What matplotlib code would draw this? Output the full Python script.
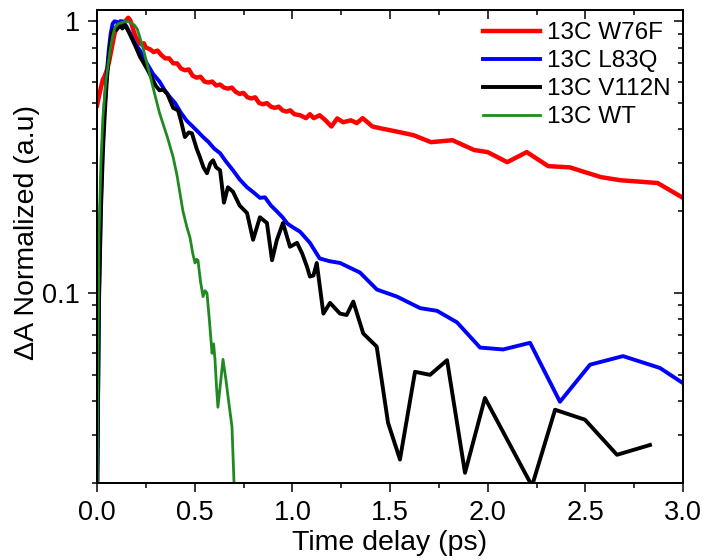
import matplotlib
matplotlib.use("Agg")
import matplotlib.pyplot as plt
from matplotlib.ticker import FixedLocator, FixedFormatter, NullFormatter, MultipleLocator, LogLocator

plt.rcParams['font.family'] = ['Liberation Sans', 'DejaVu Sans']

labels = ["13C W76F", "13C L83Q", "13C V112N", "13C WT"]
colors = ["#ff0000", "#0000ff", "#000000", "#1f8a1f"]

w76f_t = [0.00, 0.01, 0.02, 0.03, 0.04, 0.05, 0.06, 0.07, 0.08, 0.09, 0.10, 0.11, 0.12, 0.13, 0.14,
          0.15, 0.16, 0.17, 0.18, 0.19, 0.20, 0.21, 0.22, 0.23, 0.24, 0.25, 0.27, 0.29, 0.31, 0.33,
          0.35, 0.37, 0.39, 0.41, 0.43, 0.45, 0.47, 0.49, 0.51, 0.53, 0.55, 0.57, 0.59, 0.61, 0.63,
          0.65, 0.67, 0.69, 0.71, 0.73, 0.75, 0.77, 0.79, 0.81, 0.83, 0.85, 0.87, 0.89, 0.91, 0.93,
          0.95, 0.97, 0.99, 1.01, 1.04, 1.07, 1.09, 1.11, 1.14, 1.17, 1.20, 1.23, 1.26, 1.30, 1.33,
          1.36, 1.41, 1.45, 1.54, 1.62, 1.71, 1.82, 1.93, 2.00, 2.10, 2.20, 2.31, 2.42, 2.58, 2.68,
          2.87, 3.00]
w76f_a = [0.49, 0.53, 0.57, 0.61, 0.63, 0.66, 0.70, 0.76, 0.83, 0.90, 0.95, 0.98, 1.00, 0.98, 0.99,
          1.01, 1.03, 1.01, 0.96, 0.91, 0.87, 0.85, 0.83, 0.82, 0.83, 0.80, 0.79, 0.77, 0.78, 0.75,
          0.73, 0.73, 0.70, 0.70, 0.67, 0.66, 0.665, 0.63, 0.62, 0.625, 0.60, 0.595, 0.60, 0.58, 0.585,
          0.57, 0.565, 0.57, 0.55, 0.54, 0.545, 0.525, 0.52, 0.525, 0.50, 0.495, 0.50, 0.485, 0.48, 0.485,
          0.47, 0.465, 0.47, 0.455, 0.451, 0.44, 0.455, 0.44, 0.451, 0.432, 0.41, 0.439, 0.425, 0.432, 0.422,
          0.44, 0.41, 0.404, 0.392, 0.381, 0.359, 0.365, 0.336, 0.330, 0.303, 0.330, 0.293, 0.290, 0.267, 0.260,
          0.254, 0.224]

l83q_t = [0.000, 0.010, 0.020, 0.030, 0.040, 0.050, 0.060, 0.070, 0.080, 0.090, 0.110, 0.130, 0.150,
          0.170, 0.190, 0.220, 0.250, 0.287, 0.320, 0.345, 0.374, 0.400, 0.430, 0.460, 0.490, 0.520,
          0.543, 0.570, 0.600, 0.630, 0.660, 0.696, 0.730, 0.768, 0.800, 0.834, 0.860, 0.890, 0.920,
          0.950, 0.975, 1.000, 1.040, 1.090, 1.140, 1.190, 1.244, 1.346, 1.433, 1.536, 1.654, 1.741,
          1.843, 1.961, 2.079, 2.217, 2.370, 2.524, 2.693, 2.882, 3.000]
l83q_a = [0.015, 0.10, 0.22, 0.36, 0.50, 0.64, 0.78, 0.90, 0.98, 1.00, 0.99, 1.00, 0.96,
          0.90, 0.84, 0.78, 0.71, 0.64, 0.60, 0.56, 0.525, 0.50, 0.46, 0.43, 0.41, 0.39,
          0.375, 0.36, 0.34, 0.327, 0.305, 0.283, 0.262, 0.245, 0.235, 0.224, 0.225, 0.21, 0.20,
          0.19, 0.18, 0.175, 0.168, 0.153, 0.134, 0.131, 0.129, 0.119, 0.103, 0.097, 0.088, 0.086,
          0.078, 0.063, 0.062, 0.0656, 0.0398, 0.0545, 0.0586, 0.0530, 0.0466]

v112n_t = [0.000, 0.010, 0.020, 0.030, 0.040, 0.050, 0.060, 0.070, 0.080, 0.090, 0.100, 0.110, 0.120,
           0.130, 0.140, 0.150, 0.160, 0.170, 0.180, 0.200, 0.220, 0.240, 0.260, 0.287, 0.300, 0.320,
           0.340, 0.360, 0.390, 0.415, 0.430, 0.450, 0.470, 0.486, 0.510, 0.527, 0.545, 0.563, 0.580,
           0.594, 0.610, 0.630, 0.650, 0.670, 0.696, 0.730, 0.768, 0.799, 0.834, 0.870, 0.896, 0.921,
           0.952, 0.988, 1.024, 1.050, 1.075, 1.090, 1.108, 1.125, 1.159, 1.193, 1.244, 1.278, 1.312,
           1.363, 1.432, 1.490, 1.551, 1.628, 1.705, 1.792, 1.884, 1.986, 2.227, 2.345, 2.498, 2.662,
           2.831]
v112n_a = [0.015, 0.09, 0.20, 0.33, 0.46, 0.60, 0.74, 0.85, 0.92, 0.94, 0.93, 0.95, 0.96,
           0.94, 0.97, 0.95, 0.92, 0.89, 0.86, 0.80, 0.74, 0.70, 0.66, 0.607, 0.58, 0.557,
           0.56, 0.54, 0.48, 0.47, 0.43, 0.375, 0.39, 0.387, 0.34, 0.316, 0.29, 0.276, 0.30,
           0.308, 0.29, 0.283, 0.215, 0.245, 0.236, 0.21, 0.197, 0.157, 0.19, 0.181, 0.132, 0.157,
           0.181, 0.148, 0.153, 0.14, 0.125, 0.115, 0.116, 0.129, 0.084, 0.092, 0.084, 0.083, 0.093,
           0.071, 0.0635, 0.0333, 0.0244, 0.0513, 0.0500, 0.0566, 0.0218, 0.0411, 0.0195, 0.0372, 0.0342, 0.0254,
           0.0276]

wt_t = [0.000, 0.005, 0.010, 0.020, 0.030, 0.045, 0.067, 0.080, 0.092, 0.110, 0.130, 0.154, 0.170,
        0.190, 0.205, 0.220, 0.235, 0.260, 0.287, 0.320, 0.360, 0.390, 0.410, 0.440, 0.460, 0.476,
        0.490, 0.502, 0.510, 0.517, 0.530, 0.543, 0.553, 0.563, 0.575, 0.589, 0.597, 0.604, 0.612,
        0.619, 0.630, 0.645, 0.660, 0.671, 0.691, 0.701, 0.710]
wt_a = [0.012, 0.06, 0.16, 0.30, 0.44, 0.60, 0.78, 0.88, 0.95, 0.98, 0.99, 1.00, 0.99,
        0.97, 0.94, 0.87, 0.80, 0.68, 0.57, 0.46, 0.375, 0.316, 0.27, 0.20, 0.175, 0.16,
        0.14, 0.129, 0.133, 0.132, 0.11, 0.097, 0.102, 0.100, 0.08, 0.060, 0.065, 0.057, 0.045,
        0.038, 0.045, 0.057, 0.048, 0.0415, 0.0322, 0.0204, 0.015]

xticks = [0.0, 0.5, 1.0, 1.5, 2.0, 2.5, 3.0]
xticklabels = ["0.0", "0.5", "1.0", "1.5", "2.0", "2.5", "3.0"]
yticks = [0.1, 1]
yticklabels = ["0.1", "1"]

fig = plt.figure(figsize=(7.03, 5.60), dpi=100)
ax = fig.add_axes([97/703, 77/560, (683-97)/703, (483-10)/560])

series = [(w76f_t, w76f_a, 3.2), (l83q_t, l83q_a, 2.8), (v112n_t, v112n_a, 2.8), (wt_t, wt_a, 2.0)]
for (t, a, lw), lab, c in zip(series, labels, colors):
    ax.plot(t, a, color=c, lw=lw, label=lab)

ax.set_yscale('log')
ax.set_xlim(0, 3.0)
ax.set_ylim(0.02, 1.1)

ax.xaxis.set_major_locator(FixedLocator(xticks))
ax.xaxis.set_major_formatter(FixedFormatter(xticklabels))
ax.xaxis.set_minor_locator(MultipleLocator(0.25))
ax.yaxis.set_major_locator(FixedLocator(yticks))
ax.yaxis.set_major_formatter(FixedFormatter(yticklabels))
ax.yaxis.set_minor_locator(LogLocator(base=10, subs=[2, 3, 4, 5, 6, 7, 8, 9]))
ax.yaxis.set_minor_formatter(NullFormatter())

for sp in ax.spines.values():
    sp.set_linewidth(1.2)

ax.tick_params(axis='both', which='major', direction='out', length=6.5, width=1.1, labelsize=19.5, pad=6)
ax.tick_params(axis='both', which='minor', direction='out', length=3.5, width=1.1)
ax.tick_params(top=False, right=False)

# inward ticks on top and right
ax2 = ax.twinx()
ax2.set_yscale('log')
ax2.set_ylim(ax.get_ylim())
ax2.yaxis.set_major_locator(FixedLocator(yticks))
ax2.yaxis.set_minor_locator(LogLocator(base=10, subs=[2, 3, 4, 5, 6, 7, 8, 9]))
ax2.yaxis.set_major_formatter(NullFormatter())
ax2.yaxis.set_minor_formatter(NullFormatter())
ax2.tick_params(axis='y', which='major', direction='in', length=6.5, width=1.1)
ax2.tick_params(axis='y', which='minor', direction='in', length=3.5, width=1.1)
ax3 = ax.twiny()
ax3.set_xlim(ax.get_xlim())
ax3.xaxis.set_major_locator(FixedLocator(xticks))
ax3.xaxis.set_minor_locator(MultipleLocator(0.25))
ax3.xaxis.set_major_formatter(NullFormatter())
ax3.tick_params(axis='x', which='major', direction='in', length=6.5, width=1.1)
ax3.tick_params(axis='x', which='minor', direction='in', length=3.5, width=1.1)
for a_ in (ax2, ax3):
    for sp in a_.spines.values():
        sp.set_linewidth(1.2)

ax.set_xlabel("Time delay (ps)", fontsize=20.5)
ax.xaxis.set_label_coords(0.5, -0.100)
ax.set_ylabel("\u0394A Normalized (a.u)", fontsize=20.5)
ax.yaxis.set_label_coords(-0.098, 0.53)

h, l = ax.get_legend_handles_labels()
leg = fig.legend(h, l, loc='upper left', bbox_to_anchor=(483/703, 1 - 22/560), frameon=False,
                 fontsize=17.5, handlelength=2.35, handletextpad=0.3, labelspacing=0.25,
                 borderpad=0, borderaxespad=0)

fig.savefig("out.png", dpi=100)
